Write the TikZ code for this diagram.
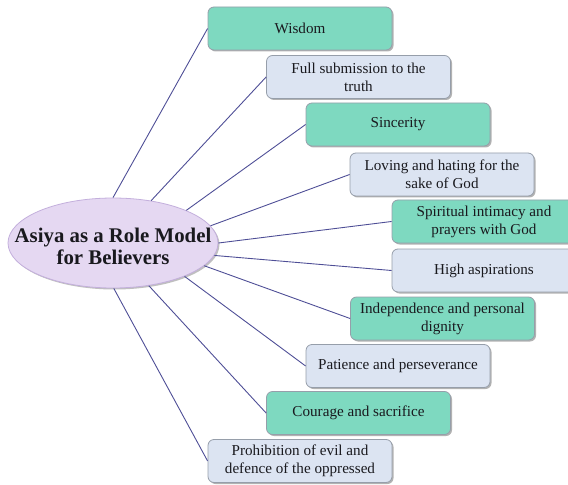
\documentclass[tikz,border=0pt]{standalone}
\usepackage{fontspec}
\setmainfont{Liberation Serif}
\usetikzlibrary{shapes.geometric,shadows}
\definecolor{tealbox}{RGB}{126,217,192}
\definecolor{bluebox}{RGB}{220,228,242}
\definecolor{boxedge}{RGB}{150,158,170}
\definecolor{lav}{RGB}{229,216,242}
\definecolor{lavedge}{RGB}{195,175,220}
\definecolor{conn}{RGB}{78,78,150}
\definecolor{txt}{RGB}{25,25,30}
\tikzset{
  item/.style={draw=boxedge, line width=0.8pt, rounded corners=6bp,
    minimum width=184bp, minimum height=43bp, inner sep=2bp,
    align=center, text=txt, font=\fontsize{15.2}{18}\selectfont,
    drop shadow={shadow xshift=1.5bp, shadow yshift=-1.5bp, opacity=0.3, fill=black}},
  tealitem/.style={item, fill=tealbox},
  blueitem/.style={item, fill=bluebox},
  centre/.style={ellipse, draw=lavedge, line width=0.8pt, fill=lav,
    minimum width=210bp, minimum height=90bp, inner sep=0pt,
    text=txt, font=\bfseries\fontsize{20.9}{23}\selectfont,
    drop shadow={shadow xshift=1.5bp, shadow yshift=-1.5bp, opacity=0.25, fill=black}},
  link/.style={draw=conn, line width=0.9pt}
}
\begin{document}
\begin{tikzpicture}[x=1bp,y=-1bp]
\useasboundingbox (0,0) rectangle (568,485);
\clip (0,0) rectangle (568,485);
\node[centre] (c) at (113,243) {\raisebox{-11bp}[0pt][0pt]{\makebox[0pt]{\begin{tabular}{@{}c@{}}Asiya as a Role Model\\[-1pt]for Believers\end{tabular}}}};
\node[tealitem] (b1) at (300,28.5) {Wisdom};
\node[blueitem] (b2) at (358.5,77) {Full submission to the\\truth};
\node[tealitem] (b3) at (398,124.5) {Sincerity};
\node[blueitem] (b4) at (442,174.5) {Loving and hating for the\\sake of God};
\node[tealitem] (b5) at (484,221.5) {Spiritual intimacy and\\prayers with God};
\node[blueitem] (b6) at (484,270.5) {High aspirations};
\node[tealitem] (b7) at (442.5,318.5) {Independence and personal\\dignity};
\node[blueitem] (b8) at (398,366) {Patience and perseverance};
\node[tealitem] (b9) at (358.5,413) {Courage and sacrifice};
\node[blueitem] (b10) at (300,461) {Prohibition of evil and\\defence of the oppressed};
\draw[link] (c.90) -- (b1.west);
\draw[link] (c.48) -- (b2.west);
\draw[link] (c.24) -- (b3.west);
\draw[link] (c.10) -- (b4.west);
\draw[link] (c.0) -- (b5.west);
\draw[link] (c.-7) -- (b6.west);
\draw[link] (c.-14) -- (b7.west);
\draw[link] (c.-25) -- (b8.west);
\draw[link] (c.-50) -- (b9.west);
\draw[link] (c.-89) -- (b10.west);
\end{tikzpicture}
\end{document}
